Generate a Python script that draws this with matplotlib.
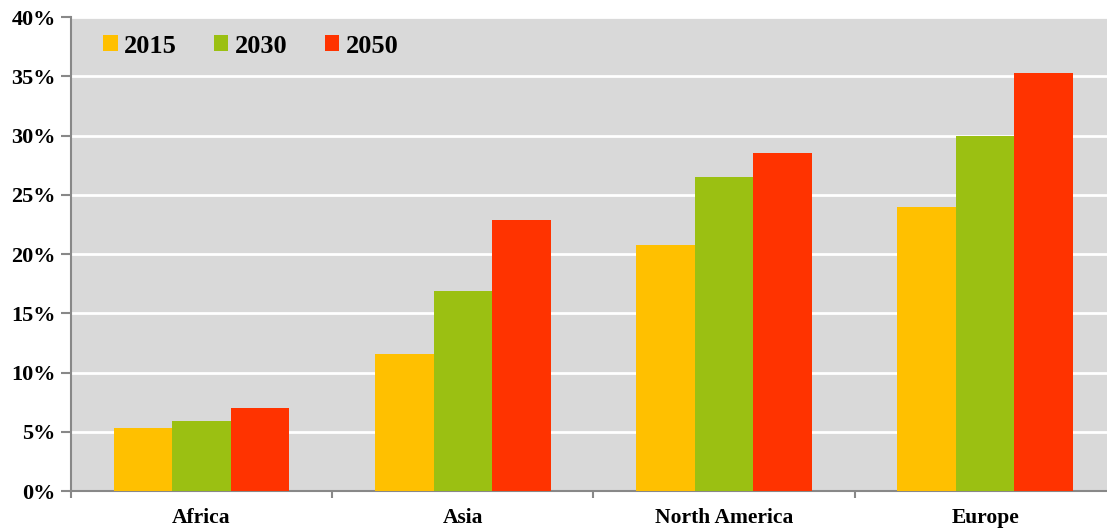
import matplotlib.pyplot as plt
import numpy as np
from matplotlib.ticker import MultipleLocator, FixedLocator, PercentFormatter

regions = ["Africa", "Asia", "North America", "Europe"]
years = ["2015", "2030", "2050"]
share_2015 = [5.3, 11.6, 20.8, 24.0]
share_2030 = [5.9, 16.9, 26.5, 30.0]
share_2050 = [7.0, 22.9, 28.5, 35.3]
colors = ["#FFC000", "#9BC012", "#FF3300"]


def main():
    plt.rcParams['font.family'] = ['Liberation Serif', 'DejaVu Serif']
    plt.rcParams['font.weight'] = 'bold'

    fig = plt.figure(figsize=(11.07, 5.29), dpi=100)
    ax = fig.add_axes([0.0641, 0.0718, 0.9391, 0.896])
    ax.set_facecolor("#D9D9D9")

    x = np.arange(len(regions))
    w = 0.224
    series = [share_2015, share_2030, share_2050]
    for i in range(len(series)):
        ax.bar(x + (i - 1) * w, series[i], width=w, color=colors[i],
               label=years[i], zorder=3)

    ax.set_ylim(0, 40)
    ax.set_xlim(-0.5, 3.48)
    ax.yaxis.set_major_locator(MultipleLocator(5))
    ax.yaxis.set_major_formatter(PercentFormatter(decimals=0))
    ax.grid(axis='y', color='white', linewidth=2, zorder=1)

    ax.set_xticks(x)
    ax.set_xticklabels(regions)
    ax.xaxis.set_minor_locator(FixedLocator([-0.5, 0.5, 1.5, 2.5]))
    ax.tick_params(axis='x', which='major', length=0, pad=12, labelsize=15.5)
    ax.tick_params(axis='x', which='minor', length=5, color='#888888', width=1.5)
    ax.tick_params(axis='y', length=7, color='#888888', width=1.5, labelsize=16, pad=4)

    for s in ['top', 'right']:
        ax.spines[s].set_visible(False)
    for s in ['left', 'bottom']:
        ax.spines[s].set_color('#888888')
        ax.spines[s].set_linewidth(1.5)

    ax.legend(loc='upper left', bbox_to_anchor=(0.008, 1.013), ncol=3, frameon=False,
              prop={'size': 19, 'weight': 'bold'}, handlelength=0.55, handleheight=0.55,
              handletextpad=0.25, columnspacing=1.4)

    fig.savefig("out.png", dpi=100)


if __name__ == "__main__":
    main()
